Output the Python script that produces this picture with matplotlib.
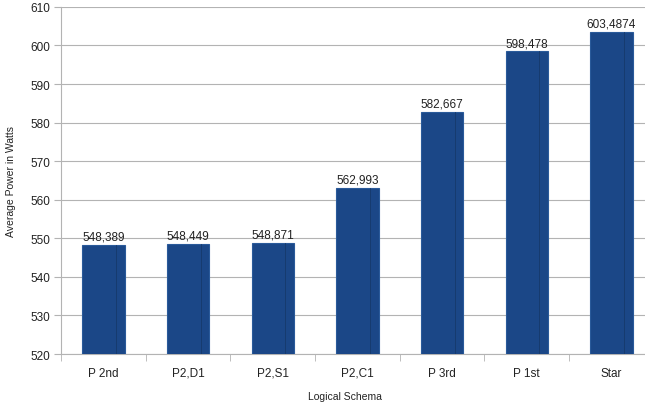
import matplotlib
matplotlib.use("Agg")
import matplotlib.pyplot as plt
import numpy as np

plt.rcParams['font.family'] = ['Liberation Sans', 'DejaVu Sans']

categories = ["P 2nd", "P2,D1", "P2,S1", "P2,C1", "P 3rd", "P 1st", "Star"]
values = [548.389, 548.449, 548.871, 562.993, 582.667, 598.478, 603.4874]
labels = ["548,389", "548,449", "548,871", "562,993", "582,667", "598,478", "603,4874"]

fig = plt.figure(figsize=(6.45, 4.06), dpi=100)
ax = fig.add_axes([0.0946, 0.1256, 0.919, 0.855])

x = np.arange(len(categories))
bar_color = "#1b4787"
width = 0.5
ax.bar(x, values, width=width, bottom=0, color=bar_color, edgecolor="#2a5a9a",
       linewidth=0.8, zorder=3)
# darker inner strip on the right side of each bar
for xi, v in zip(x, values):
    ax.plot([xi + 0.15, xi + 0.15], [520, v], color="#16396b",
            linewidth=0.6, zorder=4)

for xi, v, lab in zip(x, values, labels):
    ax.text(xi, v + 0.6, lab, ha="center", va="bottom", fontsize=8.5, color="#222222", zorder=5)

ax.set_ylim(520, 610)
ax.set_xlim(-0.5, len(categories) - 0.5)
ax.set_yticks(np.arange(520, 611, 10))
ax.set_xticks(x)
ax.set_xticklabels(categories)
ax.set_xticks(np.arange(-0.5, len(categories), 1), minor=True)
ax.tick_params(axis="x", which="major", length=0, pad=9, labelsize=8.5, colors="#222222")
ax.tick_params(axis="x", which="minor", length=5, color="#b3b3b3", direction="out")
ax.tick_params(axis="y", length=5, color="#b3b3b3", labelsize=8.5, pad=3)
for lab in ax.get_yticklabels():
    lab.set_color("#222222")

ax.grid(axis="y", color="#b3b3b3", linewidth=0.8, zorder=0)
ax.set_axisbelow(True)
for side in ["top", "right"]:
    ax.spines[side].set_visible(False)
ax.spines["left"].set_color("#b3b3b3")
ax.spines["bottom"].set_color("#b3b3b3")

ax.set_ylabel("Average Power in Watts", fontsize=7.5, color="#222222", labelpad=10)
ax.set_xlabel("Logical Schema", fontsize=7.5, color="#222222", labelpad=11)
ax.xaxis.set_label_coords(0.479, -0.106)

fig.savefig("out.png", dpi=100)
